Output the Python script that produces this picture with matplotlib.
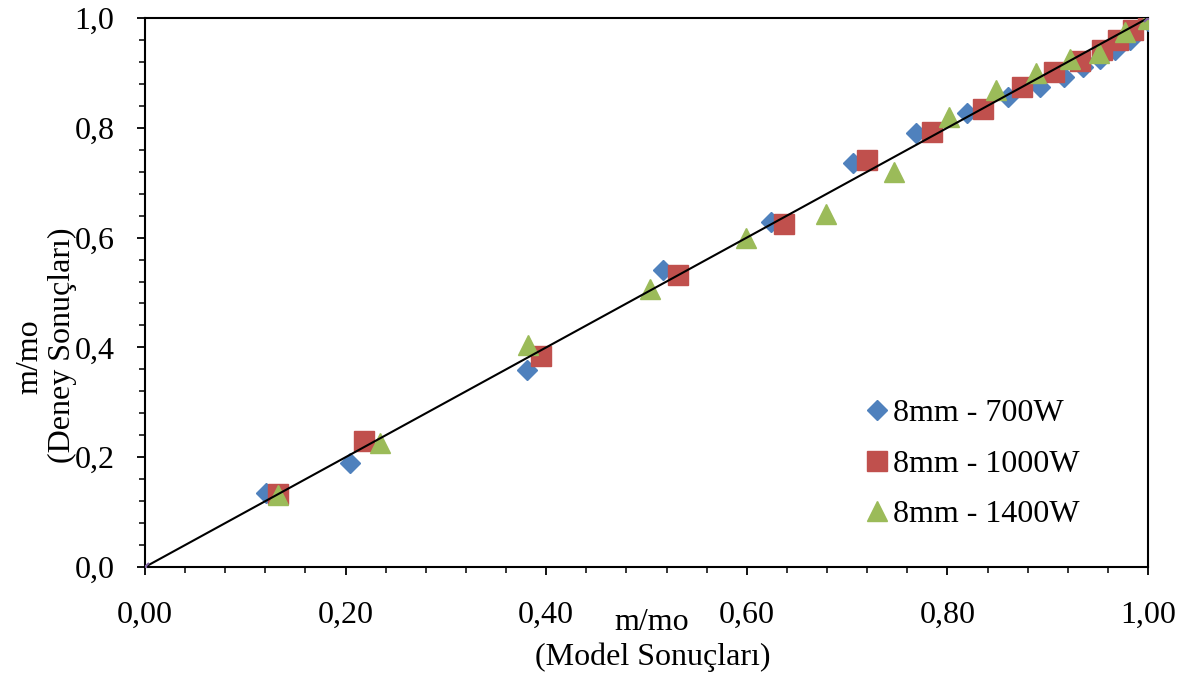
import matplotlib
matplotlib.use("Agg")
import matplotlib.pyplot as plt
from matplotlib.ticker import MultipleLocator, FuncFormatter

plt.rcParams['font.family'] = ['Liberation Serif', 'DejaVu Serif']

# model (x) vs experiment (y), m/mo
x_700 = [0.121, 0.204, 0.381, 0.516, 0.624, 0.706, 0.769, 0.820, 0.860, 0.892, 0.916, 0.935, 0.952, 0.967, 0.982, 1.000]
y_700 = [0.135, 0.189, 0.359, 0.541, 0.628, 0.736, 0.791, 0.827, 0.856, 0.874, 0.893, 0.911, 0.925, 0.942, 0.960, 0.995]

x_1000 = [0.133, 0.218, 0.395, 0.531, 0.637, 0.720, 0.785, 0.835, 0.874, 0.906, 0.932, 0.954, 0.970, 0.985, 1.000]
y_1000 = [0.133, 0.230, 0.384, 0.532, 0.625, 0.741, 0.792, 0.834, 0.874, 0.902, 0.922, 0.942, 0.960, 0.978, 1.000]

x_1400 = [0.133, 0.234, 0.382, 0.503, 0.599, 0.679, 0.747, 0.802, 0.848, 0.888, 0.922, 0.951, 0.977, 1.000]
y_1400 = [0.131, 0.226, 0.404, 0.506, 0.599, 0.643, 0.719, 0.820, 0.869, 0.900, 0.925, 0.936, 0.974, 0.998]

x_line = [0.0, 1.0]
y_line = [0.0, 1.0]

labels = ["8mm - 700W", "8mm - 1000W", "8mm - 1400W"]

fig = plt.figure(figsize=(11.89, 6.77), dpi=100)
ax = fig.add_axes([145/1189, 1-567/677, (1148-145)/1189, (567-18)/677])

ax.plot(x_700, y_700, ls='none', marker='D', ms=10.5, color='#4F81BD', label=labels[0], zorder=3)
ax.plot(x_1000, y_1000, ls='none', marker='s', ms=14, color='#C0504D', mec='#C0504D', label=labels[1], zorder=4)
ax.plot(x_1400, y_1400, ls='none', marker='^', ms=15, color='#9BBB59', label=labels[2], zorder=5)
ax.plot(x_line, y_line, color='black', lw=1.5, marker='x', ms=6, mec='#8064A2', mew=1.5, zorder=6)

ax.set_xlim(0, 1)
ax.set_ylim(0, 1)
ax.xaxis.set_major_locator(MultipleLocator(0.2))
ax.xaxis.set_minor_locator(MultipleLocator(0.04))
ax.yaxis.set_major_locator(MultipleLocator(0.2))
ax.yaxis.set_minor_locator(MultipleLocator(0.04))
ax.xaxis.set_major_formatter(FuncFormatter(lambda v, p: f"{v:.2f}".replace('.', ',')))
ax.yaxis.set_major_formatter(FuncFormatter(lambda v, p: f"{v:.1f}".replace('.', ',')))

for s in ax.spines.values():
    s.set_linewidth(1.5)
ax.tick_params(which='major', direction='out', length=6, width=1.3, labelsize=23)
ax.tick_params(which='minor', direction='out', length=4.5, width=1.1)
ax.tick_params(axis='y', which='major', pad=16)
ax.tick_params(axis='x', which='major', pad=18)

fig.text(652/1189, 1-622/677, "m/mo", ha='center', va='center', fontsize=23)
fig.text(653/1189, 1-657/677, "(Model Sonuçları)", ha='center', va='center', fontsize=23)
fig.text(30/1189, 1-357/677, "m/mo", ha='center', va='center', rotation=90, fontsize=23)
fig.text(62/1189, 1-345/677, "(Deney Sonuçları)", ha='center', va='center', rotation=90, fontsize=23)

leg = ax.legend(loc='upper left', bbox_to_anchor=(864/1189, 1-399/677), bbox_transform=fig.transFigure,
                frameon=False, fontsize=23, handlelength=0.8, handletextpad=0.12, labelspacing=0.66,
                borderpad=0, borderaxespad=0)

fig.savefig("out.png", dpi=100)
